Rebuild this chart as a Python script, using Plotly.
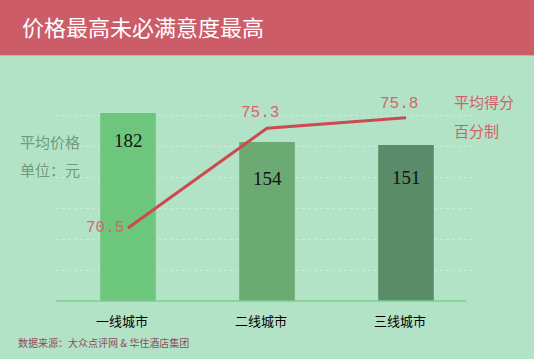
import plotly.graph_objects as go

categories = ["一线城市", "二线城市", "三线城市"]
avg_price = [182, 154, 151]
avg_score = [70.5, 75.3, 75.8]
bar_colors = ["#6CC77D", "#6BAA72", "#5A8C6A"]

W, H = 534, 359
L, R, T, B = 56, 475, 100, 301


def xp(px):
    return (px - L) / (R - L)


def yp(py):
    return (B - py) / (B - T)


fig = go.Figure()
fig.add_trace(go.Bar(
    x=categories, y=avg_price, marker=dict(color=bar_colors, line=dict(width=0)),
    width=0.4, showlegend=False, hoverinfo="skip",
))
fig.add_trace(go.Scatter(
    x=categories, y=avg_score, yaxis="y2", mode="lines",
    line=dict(color="#CC4A4F", width=3),
    showlegend=False, hoverinfo="skip", cliponaxis=False,
))

# score labels
score_font = dict(family="Liberation Mono", size=16, color="#D8636D")
score_anchor = [("right", "middle", -2, 0), ("center", "middle", -7, 15), ("center", "middle", -7, 14)]
for c, v, (xa, ya, xs, ys) in zip(categories, avg_score, score_anchor):
    fig.add_annotation(x=c, y=v, yref="y2", text=f"{v}", showarrow=False,
                       xanchor=xa, yanchor=ya, xshift=xs, yshift=ys, font=score_font)

# value labels on bars
shifts = [-27, -37, -32]
for c, v, s in zip(categories, avg_price, shifts):
    fig.add_annotation(x=c, y=v, yref="y", text=str(v), showarrow=False,
                       yshift=s, font=dict(family="Liberation Serif", size=19, color="#111111"))

ann_font_left = dict(family="Noto Sans CJK SC", size=15, color="#6E9A7C")
fig.add_annotation(x=xp(18), y=yp(141), xref="paper", yref="paper", text="平均价格",
                   showarrow=False, xanchor="left", yanchor="middle", font=ann_font_left)
fig.add_annotation(x=xp(18), y=yp(169), xref="paper", yref="paper", text="单位：元",
                   showarrow=False, xanchor="left", yanchor="middle", font=ann_font_left)
ann_font_right = dict(family="Noto Sans CJK SC", size=15, color="#CF606A")
fig.add_annotation(x=xp(452), y=yp(102), xref="paper", yref="paper", text="平均得分",
                   showarrow=False, xanchor="left", yanchor="middle", font=ann_font_right)
fig.add_annotation(x=xp(452), y=yp(130), xref="paper", yref="paper", text="百分制",
                   showarrow=False, xanchor="left", yanchor="middle", font=ann_font_right)
fig.add_annotation(x=xp(16), y=yp(342), xref="paper", yref="paper",
                   text="数据来源：大众点评网 & 华住酒店集团",
                   showarrow=False, xanchor="left", yanchor="middle",
                   font=dict(family="Noto Sans CJK SC", size=10, color="#8A4E5C"))

# title band
fig.add_shape(type="rect", xref="paper", yref="paper", x0=xp(0), x1=xp(W),
              y0=yp(55), y1=yp(0), fillcolor="#CD5C69", line=dict(width=0), layer="below")
fig.add_shape(type="line", xref="paper", yref="paper", x0=xp(0), x1=xp(W),
              y0=yp(55.5), y1=yp(55.5), line=dict(color="#E3A3A6", width=1))
# baseline
fig.add_shape(type="line", xref="paper", yref="paper", x0=xp(56), x1=xp(466),
              y0=0, y1=0, line=dict(color="#7FCB91", width=1.5))

fig.update_layout(
    width=W, height=H,
    margin=dict(l=L, r=W - R, t=T, b=H - B),
    paper_bgcolor="#B3E3C6", plot_bgcolor="#B3E3C6",
    title=dict(text="价格最高未必满意度最高", xref="container", yref="container",
               x=22 / W, xanchor="left", y=1 - 28 / H, yanchor="middle",
               font=dict(family="Noto Sans CJK SC", size=22, color="#FFFFFF")),
    xaxis=dict(range=[(L - 128) / 139, (R - 128) / 139], showgrid=False, zeroline=False,
               showline=False, ticks="", tickfont=dict(family="Noto Sans CJK SC", size=13, color="#000000"),
               ticklabelstandoff=11, ticklabelshift=-6),
    yaxis=dict(range=[0, (B - T) / (188 / 182)], dtick=30, showgrid=True, gridcolor="#CBEBD8",
               griddash="dot", gridwidth=1, zeroline=False, showticklabels=False, showline=False),
    yaxis2=dict(range=[70.5 - (B - 228) / 20.8, 70.5 + (228 - T) / 20.8], overlaying="y",
                visible=False, showgrid=False),
    bargap=0.6,
)

fig.write_html("out.html", config={"displayModeBar": False},
               post_script="document.body.style.margin='0';document.body.style.overflow='hidden';")
